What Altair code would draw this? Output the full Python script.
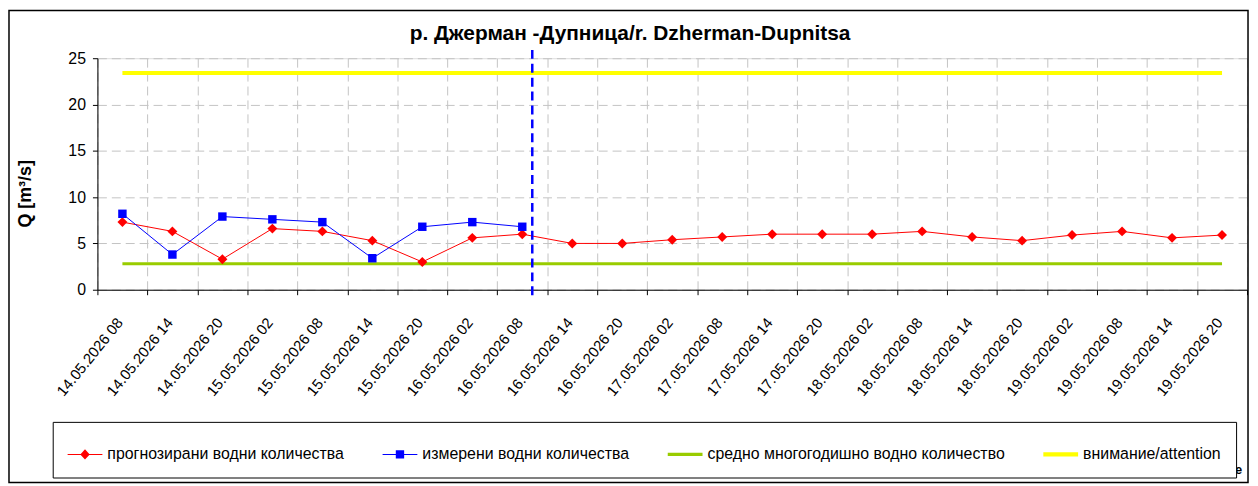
import altair as alt
import pandas as pd

# ---------------- data ----------------
categories = [
    "14.05.2026 08", "14.05.2026 14", "14.05.2026 20",
    "15.05.2026 02", "15.05.2026 08", "15.05.2026 14", "15.05.2026 20",
    "16.05.2026 02", "16.05.2026 08", "16.05.2026 14", "16.05.2026 20",
    "17.05.2026 02", "17.05.2026 08", "17.05.2026 14", "17.05.2026 20",
    "18.05.2026 02", "18.05.2026 08", "18.05.2026 14", "18.05.2026 20",
    "19.05.2026 02", "19.05.2026 08", "19.05.2026 14", "19.05.2026 20",
]
forecast = [7.3, 6.3, 3.3, 6.6, 6.3, 5.3, 3.0, 5.6, 6.0, 5.0, 5.0, 5.4,
            5.7, 6.0, 6.0, 6.0, 6.3, 5.7, 5.3, 5.9, 6.3, 5.6, 5.9]
measured = [8.2, 3.8, 7.9, 7.6, 7.3, 3.4, 6.8, 7.3, 6.8]
mean_q = 2.8
attention_q = 23.4
now_category = "16.05.2026 08"
now_span = [-0.6, 25.9]

series_names = [
    "прогнозирани водни количества",
    "измерени водни количества",
    "средно многогодишно водно количество",
    "внимание/attention",
]
series_colors = ["#FF0000", "#0000FF", "#99CC00", "#FFFF00"]
legend_paths = [
    "M-1,-0.03H1V0.03H-1Z M0,-0.29L0.27,0L0,0.29L-0.27,0Z",
    "M-1,-0.03H1V0.03H-1Z M-0.24,-0.24H0.24V0.24H-0.24Z",
    "M-1,-0.09H1V0.09H-1Z",
    "M-1,-0.12H1V0.12H-1Z",
]
title_text = "р. Джерман -Дупница/r. Dzherman-Dupnitsa"
y_title = "Q [m³/s]"

FONT = "Liberation Sans"
W, H = 1157, 233

# ---------------- tables ----------------
df_fc = pd.DataFrame({"cat": categories, "val": forecast})
df_ms = pd.DataFrame({"cat": categories[:len(measured)], "val": measured})
df_mean = pd.DataFrame({"cat": categories, "val": [mean_q] * len(categories)})
df_att = pd.DataFrame({"cat": categories, "val": [attention_q] * len(categories)})
df_now = pd.DataFrame({"cat": [now_category], "y1": [now_span[0]], "y2": [now_span[1]]})
df_leg = pd.DataFrame({"series": series_names, "cat": categories[0], "val": 0.0})
df_one = pd.DataFrame({"a": [0]})

xscale = alt.Scale(type="band", domain=categories, paddingInner=0, paddingOuter=0)
yscale = alt.Scale(domain=[0, 25], nice=False)

x_axis = alt.Axis(
    title=None, labelAngle=-51, labelAlign="right", labelBaseline="middle",
    labelPadding=25, labelOffset=-3, labelFontSize=15, labelFont=FONT,
    labelColor="black",
    tickBand="extent", grid=True, gridDash=[9, 5], gridColor="#c4c4c4",
    tickColor="black", tickSize=5, domainColor="black",
)
y_axis = alt.Axis(
    title=y_title, values=[0, 5, 10, 15, 20, 25], labelFontSize=16,
    labelFont=FONT, labelColor="black", labelPadding=7,
    grid=True, gridDash=[9, 5], gridColor="#c4c4c4",
    tickColor="black", tickSize=5, domainColor="black",
    titleFont=FONT, titleFontSize=18, titleFontWeight="bold", titleColor="black",
    titleX=-67, titleY=136, titleAngle=-90, titleBaseline="alphabetic",
    titleAlign="center",
)

X = alt.X("cat:N", scale=xscale, axis=x_axis, sort=categories)
Y = alt.Y("val:Q", scale=yscale, axis=y_axis)

frame = alt.Chart(df_one).mark_rect(
    fillOpacity=0, stroke="black", strokeWidth=1.5
).encode(
    x=alt.value(-89), x2=alt.value(1158), y=alt.value(-48), y2=alt.value(427)
)

att_line = alt.Chart(df_att).mark_line(color="#FFFF00", strokeWidth=4).encode(x=X, y=Y)
mean_line = alt.Chart(df_mean).mark_line(color="#99CC00", strokeWidth=3).encode(x=X, y=Y)
fc_line = alt.Chart(df_fc).mark_line(color="#FF0000", strokeWidth=1).encode(x=X, y=Y)
ms_line = alt.Chart(df_ms).mark_line(color="#0000FF", strokeWidth=1).encode(x=X, y=Y)
fc_pts = alt.Chart(df_fc).mark_point(
    shape="diamond", filled=True, color="#FF0000", size=100, opacity=1
).encode(x=X, y=Y)
ms_pts = alt.Chart(df_ms).mark_point(
    shape="square", filled=True, color="#0000FF", size=72, opacity=1
).encode(x=X, y=Y)

now_rule = alt.Chart(df_now).mark_rule(
    color="#0000FF", strokeWidth=2.5, strokeDash=[9, 5]
).encode(
    x=alt.X("cat:N", scale=xscale, sort=categories, bandPosition=0.7),
    y=alt.Y("y1:Q", scale=yscale),
    y2="y2:Q",
)

legend_cfg = alt.Legend(
    title=None, orient="none", direction="horizontal",
    legendX=-45, legendY=366, padding=15, strokeColor="black",
    fillColor="white", columnPadding=38, labelOffset=5,
    labelFont=FONT, labelFontSize=16, labelColor="black",
    symbolSize=1225, symbolStrokeWidth=0, symbolOpacity=1, labelLimit=500,
)
legend_layer = alt.Chart(df_leg).transform_filter("false").mark_point(
    filled=True, size=1225
).encode(
    x=alt.X("cat:N", scale=xscale, sort=categories),
    y=alt.Y("val:Q", scale=yscale),
    color=alt.Color("series:N", scale=alt.Scale(domain=series_names, range=series_colors),
                    legend=legend_cfg, sort=series_names),
    shape=alt.Shape("series:N", scale=alt.Scale(domain=series_names, range=legend_paths),
                    legend=legend_cfg, sort=series_names),
)

title_mark = alt.Chart(df_one).mark_text(
    text=title_text, font=FONT, fontSize=21, fontWeight="bold", color="black",
    align="center", baseline="alphabetic"
).encode(x=alt.value(536), y=alt.value(-18))

e_mark = alt.Chart(df_one).mark_text(
    text="e", font=FONT, fontSize=13, fontWeight="bold", color="black",
    align="left", baseline="alphabetic"
).encode(x=alt.value(1145), y=alt.value(418))

chart = alt.layer(
    frame, att_line, mean_line, fc_line, ms_line, fc_pts, ms_pts, now_rule,
    legend_layer, title_mark, e_mark,
).properties(
    width=W, height=H,
    autosize=alt.AutoSizeParams(type="none"),
    padding={"left": 90, "top": 49, "right": 3, "bottom": 196},
).configure_view(stroke=None).configure(background="white")

chart.save("out.html", embed_options={"renderer": "svg", "actions": False})
